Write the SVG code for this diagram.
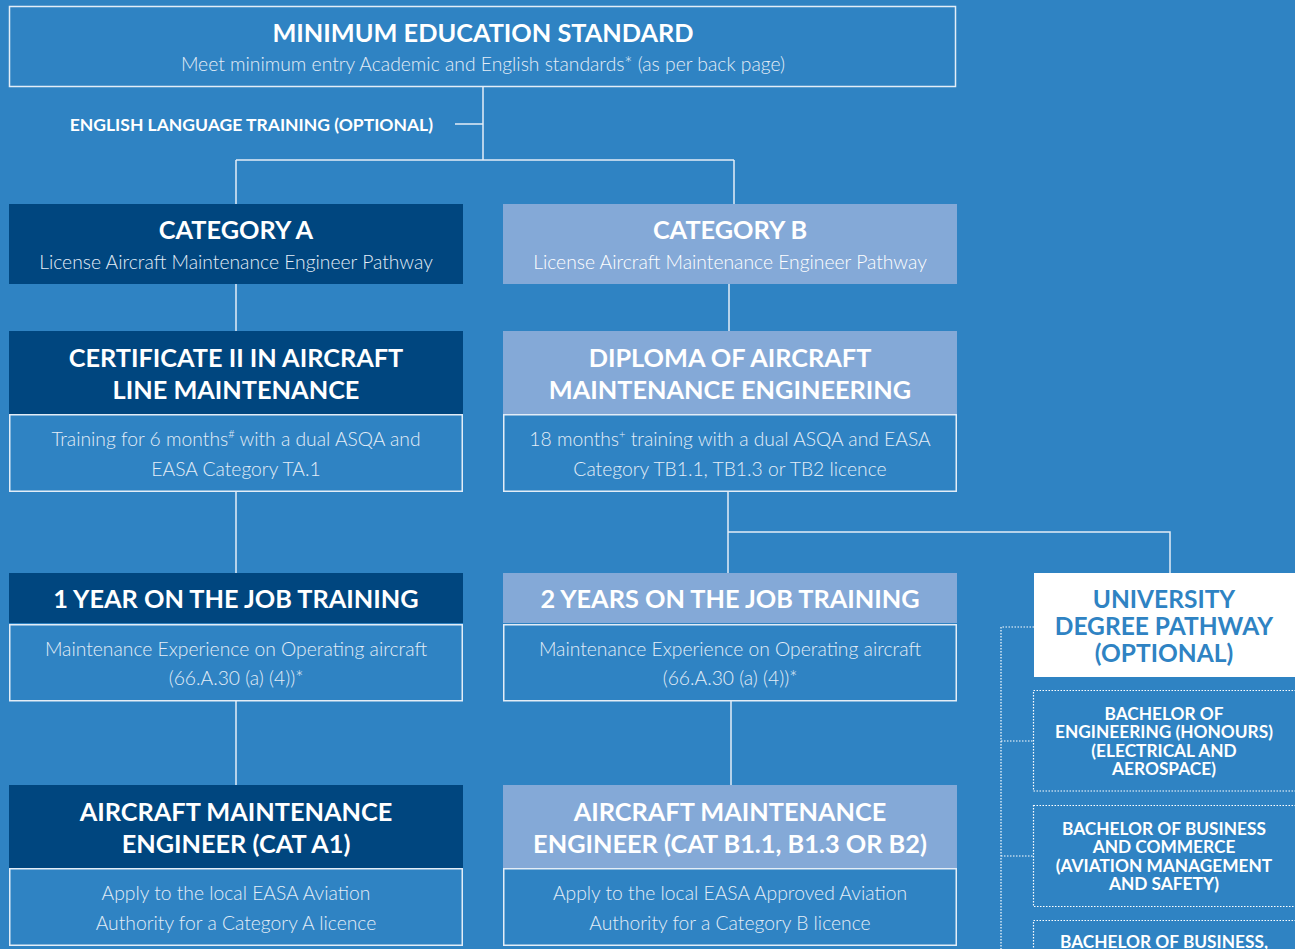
<svg xmlns="http://www.w3.org/2000/svg" width="1295" height="949" viewBox="0 0 1295 949">
<style>
.t{font-family:Lato,"Liberation Sans",sans-serif;font-weight:700;fill:#ffffff;text-anchor:middle;font-size:25.3px}
.s{font-family:Lato,"Liberation Sans",sans-serif;font-weight:300;fill:#e3edf7;text-anchor:middle;font-size:19.3px}
.sw{fill:#ffffff}
.u{font-family:Lato,"Liberation Sans",sans-serif;font-weight:700;fill:#2f83c3;text-anchor:middle;font-size:24.5px}
.b{font-family:Lato,"Liberation Sans",sans-serif;font-weight:700;fill:#ffffff;text-anchor:middle;font-size:17.3px}
.e{font-family:Lato,"Liberation Sans",sans-serif;font-weight:700;fill:#ffffff;text-anchor:end;font-size:17.5px}
.navy{fill:#00467f}
.light{fill:#84a9d7}
.ob{fill:none;stroke:#e3edf7;stroke-width:1.5}
.dot{fill:none;stroke:#ffffff;stroke-width:1.2;stroke-dasharray:1.5 1.5}
.ln{fill:none;stroke:#e3edf7;stroke-width:1.5}
</style>
<rect x="0" y="0" width="1295" height="949" fill="#2f83c3"/>

<g id="connectors">
<path class="ln" d="M483 87V160M455 124H483M236 160H734M236 160V204M734 160V204"/>
<path class="ln" d="M236 284V331M729 284V331"/>
<path class="ln" d="M236 491V573M728 491V573M728 532H1170V573"/>
<path class="ln" d="M236 701V785M731 701V785"/>
<path class="dot" d="M1034 627H1001V949M1001 741H1033M1001 856H1033"/>
</g>

<g id="min-edu">
<rect class="ob" x="9.5" y="6.5" width="946" height="80"/>
<text class="t" x="483" y="42">MINIMUM EDUCATION STANDARD</text>
<text class="s" x="483" y="71">Meet minimum entry Academic and English standards* (as per back page)</text>
</g>

<g id="english">
<text class="e" x="433" y="130.5">ENGLISH LANGUAGE TRAINING (OPTIONAL)</text>
</g>

<g id="cat-a">
<rect class="navy" x="9" y="204" width="454" height="80"/>
<text class="t" x="236" y="239">CATEGORY A</text>
<text class="s" x="236" y="269">License Aircraft Maintenance Engineer Pathway</text>
</g>

<g id="cat-b">
<rect class="light" x="503" y="204" width="454" height="80"/>
<text class="t" x="730" y="239">CATEGORY B</text>
<text class="s sw" x="730" y="269">License Aircraft Maintenance Engineer Pathway</text>
</g>

<g id="cert2">
<rect class="navy" x="9" y="331" width="454" height="83"/>
<text class="t" x="236" y="367">CERTIFICATE II IN AIRCRAFT</text>
<text class="t" x="236" y="399">LINE MAINTENANCE</text>
<rect class="ob" x="9.75" y="414.75" width="452.5" height="76.5"/>
<text class="s" x="236" y="446">Training for 6 months<tspan font-size="11" dy="-8">#</tspan><tspan dy="8"> with a dual ASQA and</tspan></text>
<text class="s" x="236" y="476">EASA Category TA.1</text>
</g>

<g id="diploma">
<rect class="light" x="503" y="331" width="454" height="83"/>
<text class="t" x="730" y="367">DIPLOMA OF AIRCRAFT</text>
<text class="t" x="730" y="399">MAINTENANCE ENGINEERING</text>
<rect class="ob" x="503.75" y="414.75" width="452.5" height="76.5"/>
<text class="s" x="730" y="446">18 months<tspan font-size="11" dy="-8">+</tspan><tspan dy="8"> training with a dual ASQA and EASA</tspan></text>
<text class="s" x="730" y="476">Category TB1.1, TB1.3 or TB2 licence</text>
</g>

<g id="ojt1">
<rect class="navy" x="9" y="573" width="454" height="50"/>
<text class="t" x="236" y="608">1 YEAR ON THE JOB TRAINING</text>
<rect class="ob" x="9.75" y="624.75" width="452.5" height="76"/>
<text class="s" x="236" y="656">Maintenance Experience on Operating aircraft</text>
<text class="s" x="236" y="685">(66.A.30 (a) (4))*</text>
</g>

<g id="ojt2">
<rect class="light" x="503" y="573" width="454" height="50"/>
<text class="t" x="730" y="608">2 YEARS ON THE JOB TRAINING</text>
<rect class="ob" x="503.75" y="624.75" width="452.5" height="76"/>
<text class="s" x="730" y="656">Maintenance Experience on Operating aircraft</text>
<text class="s" x="730" y="685">(66.A.30 (a) (4))*</text>
</g>

<g id="ame-a">
<rect class="navy" x="9" y="785" width="454" height="83"/>
<text class="t" x="236" y="821">AIRCRAFT MAINTENANCE</text>
<text class="t" x="236" y="853">ENGINEER (CAT A1)</text>
<rect class="ob" x="9.75" y="868.75" width="452.5" height="76.5"/>
<text class="s" x="236" y="900">Apply to the local EASA Aviation</text>
<text class="s" x="236" y="930">Authority for a Category A licence</text>
</g>

<g id="ame-b">
<rect class="light" x="503" y="785" width="454" height="83"/>
<text class="t" x="730" y="821">AIRCRAFT MAINTENANCE</text>
<text class="t" x="730" y="853">ENGINEER (CAT B1.1, B1.3 OR B2)</text>
<rect class="ob" x="503.75" y="868.75" width="452.5" height="76.5"/>
<text class="s" x="730" y="900">Apply to the local EASA Approved Aviation</text>
<text class="s" x="730" y="930">Authority for a Category B licence</text>
</g>

<g id="university">
<rect x="1034" y="573" width="262" height="104" fill="#ffffff"/>
<text class="u" x="1164" y="608">UNIVERSITY</text>
<text class="u" x="1164" y="635">DEGREE PATHWAY</text>
<text class="u" x="1164" y="662">(OPTIONAL)</text>
</g>

<g id="bach-eng">
<rect class="dot" x="1033.5" y="690.5" width="270" height="100.5"/>
<text class="b" x="1164" y="719.5">BACHELOR OF</text>
<text class="b" x="1164" y="738">ENGINEERING (HONOURS)</text>
<text class="b" x="1164" y="756.5">(ELECTRICAL AND</text>
<text class="b" x="1164" y="775">AEROSPACE)</text>
</g>

<g id="bach-bus">
<rect class="dot" x="1033.5" y="805.5" width="270" height="101"/>
<text class="b" x="1164" y="834.5">BACHELOR OF BUSINESS</text>
<text class="b" x="1164" y="853">AND COMMERCE</text>
<text class="b" x="1164" y="871.5">(AVIATION MANAGEMENT</text>
<text class="b" x="1164" y="890">AND SAFETY)</text>
</g>

<g id="bach-bus2">
<rect class="dot" x="1033.5" y="920.5" width="270" height="60"/>
<text class="b" x="1164" y="948">BACHELOR OF BUSINESS,</text>
</g>
</svg>
